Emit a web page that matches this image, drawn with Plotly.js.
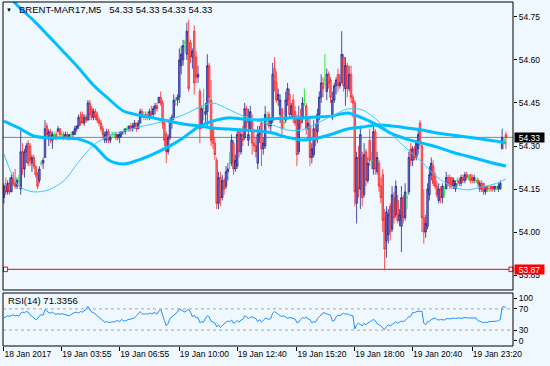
<!DOCTYPE html>
<html><head><meta charset="utf-8">
<script src="https://cdn.plot.ly/plotly-3.0.1.min.js"></script>
<style>html,body{margin:0;padding:0;background:#F0F8FF;}#chart{width:550px;height:366px;}</style>
</head><body><div id="chart"></div>
<script>
const chartTitle = "BRENT-MAR17,M5";
const quoteText = "54.33 54.33 54.33 54.33";
const rsiTitle = "RSI(14) 71.3356";
const bidLevel = 54.33;
const lineLevel = 53.87;
const rsiLevels = [70, 30];

const openP = [54.12,54.16,54.14,54.17,54.14,54.19,54.17,54.16,54.18,54.15,
54.28,54.22,54.28,54.31,54.30,54.24,54.26,54.23,54.20,54.18,
54.24,54.24,54.26,54.37,54.33,54.35,54.32,54.34,54.34,54.35,
54.36,54.34,54.34,54.33,54.34,54.33,54.34,54.34,54.34,54.36,
54.37,54.40,54.41,54.38,54.40,54.39,54.45,54.43,54.40,54.42,
54.41,54.39,54.38,54.36,54.32,54.34,54.35,54.32,54.34,54.34,
54.34,54.33,54.33,54.34,54.35,54.35,54.36,54.36,54.37,54.36,
54.37,54.38,54.36,54.38,54.42,54.40,54.41,54.40,54.40,54.42,
54.41,54.43,54.44,54.45,54.47,54.45,54.38,54.34,54.28,54.33,
54.39,54.40,54.46,54.46,54.47,54.58,54.60,54.66,54.62,54.66,
54.66,54.61,54.70,54.61,54.54,54.49,54.37,54.43,54.41,54.42,
54.58,54.46,54.36,54.31,54.25,54.10,54.19,54.12,54.18,54.16,
54.21,54.24,54.24,54.31,54.22,54.23,54.35,54.28,54.34,54.33,
54.43,54.32,54.36,54.39,54.31,54.30,54.24,54.34,54.38,54.29,
54.30,54.40,54.41,54.37,54.39,54.57,54.52,54.46,54.41,54.43,
54.38,54.39,54.46,54.48,54.41,54.46,54.42,54.40,54.28,54.40,
54.40,54.46,54.44,54.36,54.37,54.26,54.27,54.36,54.35,54.41,
54.47,54.52,54.53,54.49,54.55,54.53,54.40,54.46,54.51,54.55,
54.51,54.52,54.61,54.50,54.58,54.50,54.55,54.47,54.45,54.10,
54.26,54.15,54.26,54.13,54.28,54.18,54.32,54.25,54.22,54.35,
54.21,54.24,54.16,54.20,54.05,53.97,53.99,54.09,54.01,54.12,
54.06,54.11,54.04,54.02,54.12,54.05,54.12,54.14,54.29,54.25,
54.29,54.26,54.29,54.38,54.30,54.05,54.00,54.02,54.13,54.20,
54.23,54.20,54.16,54.11,54.15,54.12,54.14,54.15,54.19,54.19,
54.19,54.16,54.15,54.18,54.18,54.17,54.19,54.18,54.20,54.19,
54.20,54.19,54.18,54.18,54.18,54.15,54.17,54.17,54.14,54.16,
54.15,54.16,54.16,54.15,54.15,54.15,54.15,54.29,54.32,54.34];

const highP = [54.17,54.19,54.18,54.19,54.20,54.21,54.22,54.19,54.20,54.36,
54.31,54.29,54.31,54.32,54.31,54.27,54.27,54.23,54.21,54.23,
54.25,54.26,54.39,54.38,54.36,54.36,54.35,54.35,54.35,54.37,
54.36,54.35,54.35,54.35,54.35,54.34,54.35,54.35,54.37,54.37,
54.41,54.42,54.42,54.41,54.41,54.46,54.46,54.44,54.43,54.43,
54.42,54.40,54.39,54.37,54.35,54.36,54.36,54.34,54.35,54.35,
54.35,54.34,54.35,54.35,54.36,54.36,54.37,54.37,54.38,54.38,
54.39,54.38,54.39,54.43,54.43,54.42,54.42,54.42,54.43,54.44,
54.44,54.45,54.45,54.47,54.49,54.46,54.39,54.35,54.34,54.40,
54.41,54.48,54.47,54.48,54.64,54.65,54.67,54.67,54.73,54.74,
54.67,54.64,54.72,54.63,54.58,54.50,54.44,54.50,54.45,54.62,
54.59,54.53,54.38,54.33,54.26,54.21,54.21,54.20,54.19,54.23,
54.24,54.28,54.34,54.32,54.27,54.36,54.36,54.36,54.37,54.45,
54.44,54.43,54.44,54.41,54.35,54.33,54.37,54.37,54.39,54.33,
54.44,54.42,54.42,54.40,54.59,54.61,54.56,54.50,54.48,54.43,
54.40,54.49,54.52,54.50,54.45,54.48,54.44,54.41,54.44,54.43,
54.47,54.50,54.45,54.40,54.40,54.31,54.39,54.38,54.43,54.49,
54.55,54.54,54.62,54.57,54.56,54.54,54.49,54.52,54.54,54.57,
54.55,54.70,54.62,54.61,54.59,54.58,54.58,54.48,54.46,54.28,
54.30,54.37,54.28,54.31,54.29,54.26,54.36,54.28,54.38,54.36,
54.28,54.25,54.19,54.22,54.08,54.09,54.08,54.10,54.16,54.14,
54.18,54.13,54.08,54.16,54.13,54.17,54.14,54.28,54.31,54.30,
54.30,54.32,54.36,54.39,54.31,54.15,54.06,54.17,54.23,54.26,
54.25,54.21,54.18,54.17,54.16,54.17,54.16,54.21,54.20,54.20,
54.19,54.19,54.18,54.19,54.19,54.20,54.20,54.21,54.21,54.20,
54.20,54.20,54.20,54.19,54.19,54.18,54.18,54.17,54.16,54.16,
54.16,54.16,54.16,54.16,54.16,54.17,54.18,54.36,54.33,54.35];

const lowP = [54.10,54.13,54.13,54.13,54.14,54.16,54.15,54.15,54.17,54.13,
54.20,54.19,54.24,54.23,54.23,54.21,54.22,54.19,54.15,54.17,
54.23,54.22,54.26,54.33,54.30,54.31,54.29,54.33,54.32,54.35,
54.33,54.33,54.32,54.33,54.32,54.32,54.33,54.33,54.34,54.35,
54.36,54.37,54.38,54.37,54.38,54.39,54.39,54.39,54.39,54.39,
54.38,54.37,54.35,54.33,54.31,54.31,54.31,54.31,54.33,54.33,
54.32,54.32,54.31,54.33,54.34,54.34,54.35,54.35,54.35,54.35,
54.36,54.35,54.36,54.38,54.40,54.39,54.39,54.39,54.39,54.40,
54.40,54.41,54.42,54.45,54.44,54.36,54.30,54.24,54.27,54.32,
54.36,54.39,54.44,54.44,54.45,54.55,54.58,54.63,54.60,54.49,
54.59,54.57,54.48,54.52,54.52,54.31,54.36,54.39,54.38,54.37,
54.45,54.30,54.29,54.25,54.08,54.08,54.09,54.11,54.13,54.15,
54.18,54.22,54.23,54.20,54.21,54.22,54.26,54.27,54.30,54.32,
54.36,54.30,54.35,54.27,54.28,54.26,54.22,54.31,54.23,54.27,
54.29,54.37,54.36,54.35,54.38,54.49,54.45,54.44,54.38,54.34,
54.36,54.38,54.44,54.40,54.40,54.38,54.37,54.23,54.27,54.36,
54.38,54.44,54.34,54.33,54.23,54.24,54.26,54.30,54.31,54.39,
54.45,54.47,54.51,54.46,54.50,54.45,54.39,54.45,54.48,54.49,
54.50,54.52,54.49,54.44,54.47,54.49,54.45,54.40,54.09,54.03,
54.12,54.08,54.09,54.12,54.16,54.17,54.23,54.22,54.20,54.20,
54.20,54.14,54.10,54.00,53.87,53.91,53.96,53.97,54.00,54.03,
54.05,54.03,54.02,53.93,54.03,54.04,54.08,54.13,54.23,54.23,
54.25,54.25,54.27,54.30,54.00,53.96,53.98,54.01,54.11,54.18,
54.16,54.15,54.12,54.10,54.10,54.10,54.12,54.15,54.16,54.15,
54.15,54.15,54.14,54.16,54.16,54.16,54.17,54.17,54.18,54.18,
54.17,54.17,54.17,54.17,54.16,54.14,54.14,54.13,54.13,54.14,
54.14,54.14,54.14,54.14,54.15,54.14,54.15,54.29,54.31,54.29];

const closeP = [54.16,54.14,54.17,54.14,54.19,54.17,54.16,54.18,54.18,54.28,
54.22,54.28,54.30,54.24,54.25,54.26,54.23,54.20,54.16,54.22,
54.24,54.25,54.36,54.34,54.35,54.32,54.34,54.34,54.33,54.36,
54.34,54.34,54.33,54.34,54.33,54.34,54.34,54.35,54.36,54.37,
54.40,54.38,54.38,54.40,54.39,54.45,54.41,54.40,54.42,54.40,
54.39,54.38,54.36,54.34,54.34,54.35,54.32,54.33,54.34,54.34,
54.33,54.34,54.34,54.35,54.35,54.36,54.36,54.37,54.36,54.37,
54.38,54.36,54.38,54.42,54.40,54.40,54.40,54.40,54.42,54.41,
54.43,54.44,54.43,54.47,54.45,54.38,54.32,54.28,54.33,54.39,
54.40,54.46,54.46,54.47,54.60,54.62,54.65,54.66,54.70,54.50,
54.61,54.63,54.52,54.54,54.55,54.36,54.43,54.43,54.42,54.58,
54.47,54.32,54.31,54.27,54.10,54.19,54.12,54.18,54.15,54.21,
54.22,54.24,54.32,54.22,54.25,54.34,54.28,54.34,54.32,54.43,
54.38,54.34,54.42,54.31,54.30,54.28,54.34,54.35,54.29,54.31,
54.41,54.40,54.37,54.39,54.55,54.52,54.46,54.48,54.46,54.36,
54.38,54.46,54.50,54.41,54.44,54.40,54.38,54.27,54.40,54.38,
54.45,54.46,54.36,54.38,54.26,54.29,54.36,54.32,54.41,54.47,
54.52,54.50,54.53,54.55,54.52,54.47,54.46,54.51,54.53,54.51,
54.52,54.62,54.51,54.58,54.50,54.55,54.47,54.45,54.14,54.26,
54.15,54.34,54.12,54.27,54.18,54.24,54.25,54.25,54.35,54.22,
54.26,54.16,54.12,54.04,53.94,54.07,54.06,54.00,54.13,54.05,
54.16,54.04,54.06,54.12,54.05,54.14,54.12,54.26,54.25,54.29,
54.26,54.31,54.34,54.31,54.05,54.00,54.03,54.15,54.20,54.24,
54.17,54.16,54.13,54.15,54.12,54.16,54.14,54.19,54.17,54.16,
54.16,54.18,54.17,54.18,54.17,54.19,54.18,54.20,54.19,54.19,
54.18,54.18,54.19,54.18,54.17,54.17,54.15,54.14,54.15,54.15,
54.15,54.15,54.15,54.16,54.15,54.16,54.17,54.33,54.32,54.33];

const rsi = [53,55,57,56,58,59,57,58,56,62,
64,63,65,64,59,56,53,50,51,57,
59,58,69,65,63,62,64,61,60,61,
60,61,60,59,58,57,59,62,63,64,
62,65,64,66,69,75,68,64,63,60,
56,53,50,47,45,46,45,44,46,45,
47,48,46,50,48,47,49,50,51,52,
53,57,62,65,61,60,61,60,62,61,
62,63,60,66,69,60,48,38,43,52,
55,58,62,64,70,68,65,64,67,69,
64,55,58,53,54,44,46,45,53,57,
55,47,45,44,36,40,35,39,42,45,
47,46,49,43,45,48,45,49,50,57,
55,52,54,55,53,52,46,50,45,48,
52,52,50,52,62,65,63,60,57,56,
57,55,52,54,53,52,51,44,45,50,
54,52,55,51,50,44,46,45,52,55,
59,63,62,61,60,58,47,48,55,58,
57,59,62,60,61,59,58,57,32,40,
43,41,38,43,40,44,45,48,50,48,
42,40,38,34,31,37,40,38,40,43,
46,43,45,47,46,48,52,55,56,63,
63,64,66,65,66,43,40,46,47,50,
51,53,50,49,50,50,49,51,52,51,
52,53,52,53,53,52,53,54,53,53,
53,53,54,53,48,47,46,44,45,44,
46,46,47,46,47,48,50,73,75,71.3356];

const maIdx = [0,8,16,24,32,40,48,56,64,72,80,88,96,104,112,120,128,136,144,152,160,168,176,184,192,200,208,216,224,232,240,248,256,264,269];
const maSlow = [54.84,54.785,54.737,54.683,54.628,54.572,54.512,54.465,54.422,54.408,54.398,54.387,54.377,54.37,54.363,54.359,54.356,54.352,54.345,54.33,54.321,54.328,54.342,54.359,54.366,54.373,54.37,54.363,54.356,54.345,54.338,54.331,54.324,54.317,54.31];
const maMid = [54.387,54.363,54.335,54.328,54.328,54.324,54.303,54.251,54.237,54.251,54.272,54.297,54.328,54.366,54.387,54.398,54.394,54.391,54.394,54.398,54.398,54.401,54.405,54.415,54.398,54.373,54.342,54.324,54.31,54.297,54.279,54.265,54.251,54.237,54.23];
const maFast = [54.272,54.16,54.14,54.147,54.178,54.244,54.303,54.335,54.352,54.366,54.377,54.391,54.408,54.433,54.45,54.429,54.405,54.387,54.373,54.356,54.356,54.38,54.405,54.429,54.426,54.39,54.338,54.29,54.244,54.192,54.16,54.147,54.157,54.17,54.185];

const tickIdx = [0,31,62,94,125,157,188,219,251];
const tickLabels = ["18 Jan 2017","19 Jan 03:55","19 Jan 06:55","19 Jan 10:00","19 Jan 12:40","19 Jan 15:20","19 Jan 18:00","19 Jan 20:40","19 Jan 23:20"];

const idx = openP.map((_, i) => i);
const isDoji = idx.map(i => openP[i] === closeP[i]);
const pick = (arr, flag) => arr.filter((_, i) => isDoji[i] === flag);

const FONT = 'Liberation Sans, Arial, sans-serif';
const maColor = '#00BFFF';

const traces = [
  {type:'scatter', mode:'lines', x:maIdx, y:maSlow, xaxis:'x', yaxis:'y',
   line:{color:maColor, width:3, shape:'spline', smoothing:0.8}, hoverinfo:'skip'},
  {type:'scatter', mode:'lines', x:maIdx, y:maMid, xaxis:'x', yaxis:'y',
   line:{color:maColor, width:3, shape:'spline', smoothing:0.8}, hoverinfo:'skip'},
  {type:'scatter', mode:'lines', x:maIdx, y:maFast, xaxis:'x', yaxis:'y',
   line:{color:'#3CC8FF', width:1, shape:'spline', smoothing:0.8}, hoverinfo:'skip'},
  {type:'candlestick', xaxis:'x', yaxis:'y',
   x:pick(idx,false), open:pick(openP,false), high:pick(highP,false), low:pick(lowP,false), close:pick(closeP,false),
   increasing:{line:{color:'#23238f', width:0.8}, fillcolor:'#7a7acb'},
   decreasing:{line:{color:'#ff2222', width:0.8}, fillcolor:'#f28282'},
   whiskerwidth:0, hoverinfo:'skip'},
  {type:'candlestick', xaxis:'x', yaxis:'y',
   x:pick(idx,true), open:pick(openP,true), high:pick(highP,true), low:pick(lowP,true), close:pick(closeP,true),
   increasing:{line:{color:'#33e833', width:1}, fillcolor:'#33e833'},
   decreasing:{line:{color:'#33e833', width:1}, fillcolor:'#33e833'},
   whiskerwidth:0, hoverinfo:'skip'},
  {type:'scatter', mode:'lines', x:idx, y:rsi, xaxis:'x', yaxis:'y2',
   line:{color:'#1E90FF', width:1}, hoverinfo:'skip'}
];

const shapes = [
  {type:'line', xref:'x domain', x0:0, x1:1, yref:'y', y0:bidLevel, y1:bidLevel, line:{color:'#778899', width:1}, layer:'below'},
  {type:'line', xref:'x domain', x0:0, x1:1, yref:'y', y0:lineLevel, y1:lineLevel, line:{color:'#ff0000', width:1}},
  {type:'rect', xref:'x domain', x0:0.001, x1:0.009, yref:'y', y0:lineLevel-0.008, y1:lineLevel+0.008, line:{color:'#ff0000', width:1}, fillcolor:'#F0F8FF'},
  {type:'rect', xref:'x domain', x0:0.992, x1:1.0, yref:'y', y0:lineLevel-0.008, y1:lineLevel+0.008, line:{color:'#ff0000', width:1}, fillcolor:'#F0F8FF'},
  {type:'rect', xref:'x domain', x0:0, x1:1, yref:'y domain', y0:0, y1:1, line:{color:'#000', width:1}, fillcolor:'rgba(0,0,0,0)'},
  {type:'rect', xref:'x domain', x0:0, x1:1, yref:'y2 domain', y0:0, y1:1, line:{color:'#000', width:1}, fillcolor:'rgba(0,0,0,0)'}
];
rsiLevels.forEach(v => shapes.push({type:'line', xref:'x domain', x0:0, x1:1, yref:'y2', y0:v, y1:v,
  line:{color:'#a8a8a8', width:1, dash:'3px,3px'}, layer:'below'}));

const annotations = [
  {xref:'paper', yref:'paper', x:0.0108, y:0.978, text:'\u25BC', showarrow:false, xanchor:'center', yanchor:'middle', font:{family:FONT, size:6, color:'#000'}},
  {xref:'paper', yref:'paper', x:0.0265, y:0.978, text:chartTitle + '\u00a0\u00a0 ' + quoteText, showarrow:false, xanchor:'left', yanchor:'middle', font:{family:FONT, size:9.5, color:'#000'}},
  {xref:'paper', yref:'paper', x:0.0065, y:0.131, text:rsiTitle, showarrow:false, xanchor:'left', yanchor:'middle', font:{family:FONT, size:9.5, color:'#000'}},
  {xref:'paper', yref:'y', x:1, xshift:1, y:bidLevel, text:bidLevel.toFixed(2), showarrow:false, xanchor:'left', yanchor:'middle',
   bgcolor:'#000', borderpad:0, width:29, height:9, align:'center', font:{family:FONT, size:8.5, color:'#fff'}},
  {xref:'paper', yref:'y', x:1, xshift:1, y:lineLevel, text:lineLevel.toFixed(2), showarrow:false, xanchor:'left', yanchor:'middle',
   bgcolor:'#ff0000', borderpad:0, width:29, height:9, align:'center', font:{family:FONT, size:8.5, color:'#fff'}}
];

const layout = {
  width:550, height:366,
  margin:{l:3, r:37, t:2, b:20, pad:0},
  paper_bgcolor:'#F0F8FF', plot_bgcolor:'#F0F8FF',
  showlegend:false,
  font:{family:FONT, size:8.5, color:'#000'},
  boxgap:0.2, boxgroupgap:0,
  xaxis:{domain:[0,1], range:[-0.5,272.8], anchor:'y2', showgrid:false, zeroline:false, showline:false,
    tickmode:'array', tickvals:tickIdx, ticktext:tickLabels, ticks:'outside', ticklen:4, tickwidth:1, tickcolor:'#000',
    tickangle:0, ticklabelposition:'outside right', tickfont:{family:FONT, size:8.5, color:'#000'},
    rangeslider:{visible:false}, fixedrange:true},
  yaxis:{domain:[0.1628,1], range:[53.798,54.802], side:'right', anchor:'x', showgrid:false, zeroline:false, showline:false,
    tick0:53.85, dtick:0.15, tickformat:'.2f', ticks:'outside', ticklen:3, tickcolor:'#000',
    tickfont:{family:FONT, size:8.5, color:'#000'}, fixedrange:true},
  yaxis2:{domain:[0,0.154], range:[0,100], side:'right', anchor:'x', showgrid:false, zeroline:false, showline:false,
    tickmode:'array', tickvals:[90,70,30,10], ticktext:['100','70','30','0'], ticks:'outside', ticklen:3, tickcolor:'#000',
    tickfont:{family:FONT, size:8.5, color:'#000'}, fixedrange:true},
  shapes:shapes,
  annotations:annotations
};

Plotly.newPlot('chart', traces, layout, {staticPlot:true, displayModeBar:false});
</script></body></html>
